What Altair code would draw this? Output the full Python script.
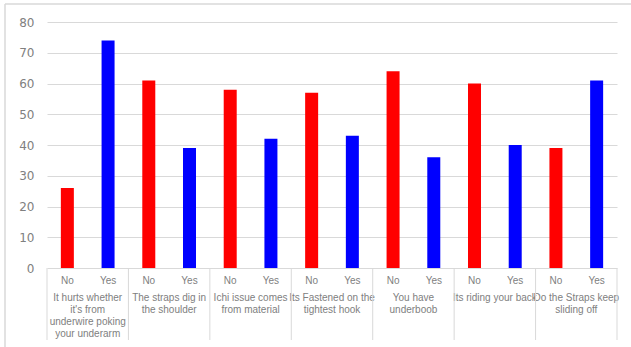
import altair as alt
import pandas as pd

# Survey answers per bra complaint
groups = [
    "It hurts whether\nit's from\nunderwire poking\nyour underarm",
    "The straps dig in\nthe shoulder",
    "Ichi issue comes\nfrom material",
    "Its Fastened on the\ntightest hook",
    "You have\nunderboob",
    "Its riding your back",
    "Do the Straps keep\nsliding off",
]
answers = ["No", "Yes"]
no_vals = [26, 61, 58, 57, 64, 60, 39]
yes_vals = [74, 39, 42, 43, 36, 40, 61]
y_ticks = [0, 10, 20, 30, 40, 50, 60, 70, 80]

W, H = 570, 246
LABEL_FONT = "Liberation Sans"
GRID = "#d9d9d9"
TEXT = "#808080"

rows = []
for g, n, y in zip(groups, no_vals, yes_vals):
    rows.append({"group": g, "answer": "No", "value": n})
    rows.append({"group": g, "answer": "Yes", "value": y})
df = pd.DataFrame(rows)
gdf = pd.DataFrame({"group": groups})
last_df = pd.DataFrame({"group": [groups[-1]]})

x_group = alt.X(
    "group:N",
    sort=groups,
    scale=alt.Scale(paddingInner=0, paddingOuter=0),
    axis=None,
)
x_off = alt.XOffset(
    "answer:N",
    sort=answers,
    scale=alt.Scale(paddingInner=0, paddingOuter=0),
)

bars = (
    alt.Chart(df)
    .mark_bar(width=13)
    .encode(
        x=x_group,
        xOffset=x_off,
        y=alt.Y(
            "value:Q",
            scale=alt.Scale(domain=[0, 80], nice=False),
            axis=alt.Axis(
                values=y_ticks,
                grid=True,
                gridColor=GRID,
                gridWidth=1,
                domain=False,
                ticks=False,
                labelColor=TEXT,
                labelFontSize=12,
                labelFont="DejaVu Sans",
                labelPadding=13,
            ),
            title=None,
        ),
        color=alt.Color(
            "answer:N",
            scale=alt.Scale(domain=answers, range=["#ff0000", "#0000ff"]),
            legend=None,
        ),
    )
)

# No / Yes labels under each bar
answer_labels = (
    alt.Chart(df)
    .mark_text(fontSize=10, font=LABEL_FONT, color=TEXT, baseline="middle")
    .encode(x=x_group, xOffset=x_off, y=alt.value(H + 13), text="answer:N")
)

# Multi-line group names
group_labels = (
    alt.Chart(gdf)
    .mark_text(
        fontSize=10,
        font=LABEL_FONT,
        color=TEXT,
        baseline="top",
        lineBreak="\n",
        lineHeight=12,
    )
    .encode(x=x_group, y=alt.value(H + 25), text="group:N")
)

# Vertical separators between categories
sep_left = (
    alt.Chart(gdf)
    .mark_rule(color=GRID, strokeWidth=1)
    .encode(
        x=alt.X("group:N", sort=groups, bandPosition=0,
                scale=alt.Scale(paddingInner=0, paddingOuter=0), axis=None),
        y=alt.value(H),
        y2=alt.value(H + 72),
    )
)
sep_right = (
    alt.Chart(last_df)
    .mark_rule(color=GRID, strokeWidth=1)
    .encode(
        x=alt.X("group:N", sort=groups, bandPosition=1,
                scale=alt.Scale(paddingInner=0, paddingOuter=0), axis=None),
        y=alt.value(H),
        y2=alt.value(H + 72),
    )
)

# Chart frame (left and top edges)
frame_left = (
    alt.Chart(gdf.head(1))
    .mark_rule(color=GRID, strokeWidth=1.5)
    .encode(x=alt.value(-42), y=alt.value(-18), y2=alt.value(H + 79))
)
frame_top = (
    alt.Chart(gdf.head(1))
    .mark_rule(color=GRID, strokeWidth=1.5)
    .encode(x=alt.value(-42), x2=alt.value(W + 14), y=alt.value(-18))
)

chart = (
    alt.layer(frame_left, frame_top, bars, answer_labels, group_labels, sep_left, sep_right)
    .properties(
        width=W,
        height=H,
        padding={"left": 47, "top": 22, "right": 14, "bottom": 79},
        autosize=alt.AutoSizeParams(type="none"),
        background="white",
    )
    .configure_view(stroke=None)
)

chart.save("out.html", embed_options={"renderer": "svg", "actions": False})
